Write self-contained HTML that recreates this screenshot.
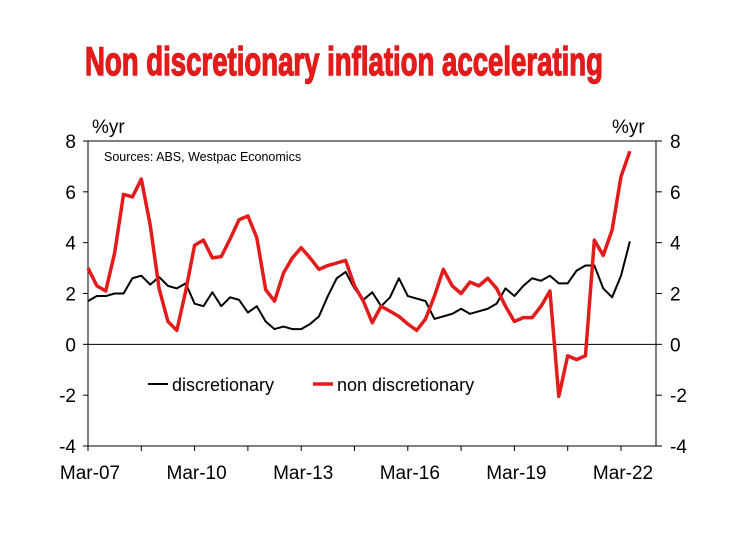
<!DOCTYPE html>
<html><head><meta charset="utf-8"><style>
html,body{margin:0;padding:0;background:#fff;}
svg{display:block;font-family:"Liberation Sans",Arial,sans-serif;}
</style></head><body>
<svg id="chart" width="740" height="555" viewBox="0 0 740 555">
<text x="85" y="75" font-family="'Liberation Sans Narrow','Liberation Sans',sans-serif" font-weight="bold" font-size="40" fill="#e31b1b" stroke="#e31b1b" stroke-width="1.4" textLength="518" lengthAdjust="spacingAndGlyphs">Non discretionary inflation accelerating</text>
<text x="92" y="133" font-size="19">%yr</text>
<text x="612" y="133" font-size="19">%yr</text>
<text x="104" y="161" font-size="12.5">Sources: ABS, Westpac Economics</text>
<g id="axes"></g>
<g id="series"></g>
<g>
<line x1="148" y1="384" x2="168" y2="384" stroke="#000" stroke-width="2"/>
<text x="172" y="391" font-size="18">discretionary</text>
<line x1="313" y1="384" x2="333" y2="384" stroke="#e31b1b" stroke-width="3.5"/>
<text x="337" y="391" font-size="18">non discretionary</text>
</g>
</svg>
<script>
const yTicks=[8,6,4,2,0,-2,-4];
const xLabels=["Mar-07","Mar-10","Mar-13","Mar-16","Mar-19","Mar-22"];
const nonDiscretionary=[3.0,2.3,2.1,3.6,5.9,5.8,6.5,4.7,2.2,0.9,0.55,2.1,3.9,4.1,3.4,3.45,4.15,4.9,5.05,4.2,2.15,1.7,2.8,3.4,3.8,3.4,2.95,3.1,3.2,3.3,2.3,1.7,0.85,1.5,1.3,1.1,0.8,0.55,1.0,1.9,2.95,2.3,2.0,2.45,2.3,2.6,2.2,1.5,0.9,1.05,1.05,1.5,2.1,-2.05,-0.45,-0.6,-0.45,4.1,3.5,4.5,6.6,7.6];
const discretionary=[1.7,1.9,1.9,2.0,2.0,2.6,2.7,2.35,2.65,2.3,2.2,2.4,1.6,1.5,2.05,1.5,1.85,1.75,1.25,1.5,0.9,0.6,0.7,0.6,0.6,0.8,1.1,1.9,2.6,2.85,2.2,1.75,2.05,1.5,1.85,2.6,1.9,1.8,1.7,1.0,1.1,1.2,1.4,1.2,1.3,1.4,1.6,2.2,1.9,2.3,2.6,2.5,2.7,2.4,2.4,2.9,3.1,3.1,2.2,1.85,2.7,4.05];
const NS="http://www.w3.org/2000/svg";
const L=88,R=656,T=141,B=446;
const xq=i=>88+i*(533/60);
const y=v=>T+(8-v)*(B-T)/12;
function mk(tag,attrs,parent){const e=document.createElementNS(NS,tag);for(const k in attrs)e.setAttribute(k,attrs[k]);parent.appendChild(e);return e;}
const ax=document.getElementById('axes');
let e;
e=mk('rect',{x:L,y:T,width:R-L,height:B-T,fill:'none',stroke:'#000','stroke-width':1},ax);


e=mk('line',{x1:L,x2:R,y1:y(0),y2:y(0),stroke:'#000','stroke-width':1},ax);


yTicks.forEach(v=>{
 mk('line',{x1:L-5,x2:L,y1:y(v),y2:y(v),stroke:'#000'},ax);
 mk('line',{x1:R,x2:R+6,y1:y(v),y2:y(v),stroke:'#000'},ax);
 let t=mk('text',{x:L-12,y:y(v)+7,'font-size':19,'text-anchor':'end'},ax);t.textContent=v;
 
 
 t=mk('text',{x:R+14,y:y(v)+7,'font-size':19},ax);t.textContent=v;
 
 
});
for(let i=0;i<=10;i++){mk('line',{x1:xq(i*6),x2:xq(i*6),y1:B,y2:B+5,stroke:'#000'},ax);}
xLabels.forEach((s,i)=>{
 const t=mk('text',{x:xq(i*12)+2,y:B+33,'font-size':19,'text-anchor':'middle'},ax);t.textContent=s;
 
 
});
const sg=document.getElementById('series');
function line(data,color,w,name){
 const p=mk('polyline',{points:data.map((v,i)=>xq(i)+','+y(v)).join(' '),fill:'none',stroke:color,'stroke-width':w,'stroke-linejoin':'round'},sg);
 
 
}
line(discretionary,'#000',2,'discretionary-line');
line(nonDiscretionary,'#e31b1b',3.5,'non-discretionary-line');
</script>
</body></html>
